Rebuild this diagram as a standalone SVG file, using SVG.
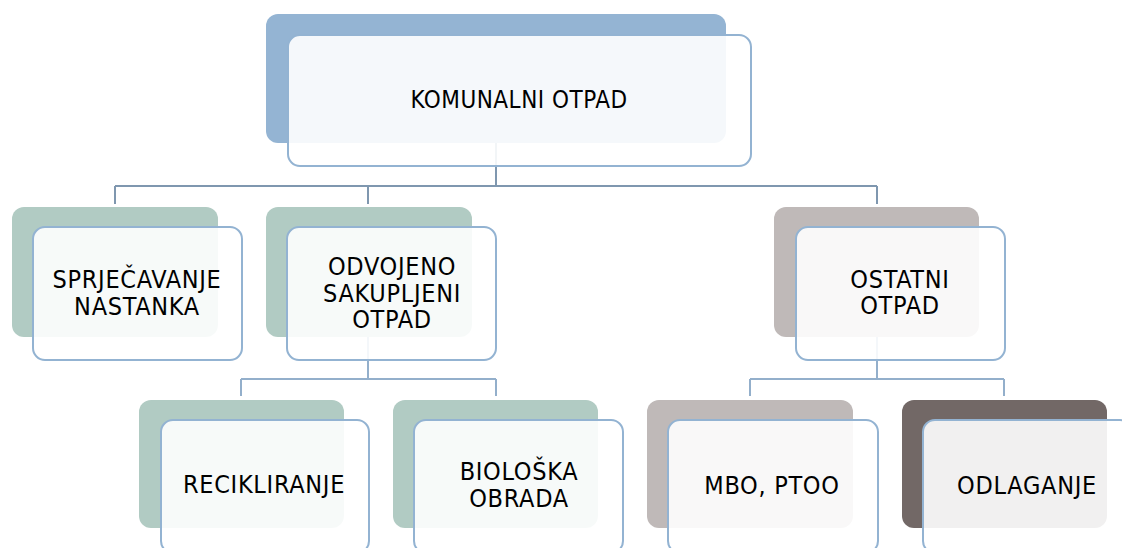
<svg xmlns="http://www.w3.org/2000/svg" width="1122" height="548" viewBox="0 0 1122 548">
<style>
.back{stroke:none}
.front{fill:#ffffff;fill-opacity:0.9;stroke:#93b3d2;stroke-width:2}
.lbl{font-family:'DejaVu Sans Condensed','DejaVu Sans',sans-serif;font-stretch:condensed;font-size:25px;letter-spacing:0.7px;fill:#000;text-anchor:middle}
.top{font-size:24px;letter-spacing:0.5px}
.c1{fill:none;stroke:#7f97af;stroke-width:2}
.c2{fill:none;stroke:#93afcb;stroke-width:2}
</style>
<rect width="1122" height="548" fill="#ffffff"/>
<g id="connectors">
<path class="c1" d="M496 143V186M115 186H877M115 186V204M368 186V204M877 186V204"/>
<path class="c2" d="M368 337V379M241 379H496M241 379V396M496 379V396"/>
<path class="c2" d="M877 337V379M750 379H1004M750 379V396M1004 379V396"/>
</g>
<g id="n-komunalni">
<rect class="back" x="266" y="14" width="460" height="129" rx="12" fill="#94b4d3"/>
<rect class="front" x="288" y="35" width="463" height="131" rx="12"/>
<text class="lbl top" x="519" y="108">KOMUNALNI OTPAD</text>
</g>
<g id="n-sprjecavanje">
<rect class="back" x="12" y="207" width="206" height="130" rx="12" fill="#b1cbc3"/>
<rect class="front" x="33" y="227" width="209" height="133" rx="12"/>
<text class="lbl" x="137" y="288">SPRJEČAVANJE</text>
<text class="lbl" x="137" y="315">NASTANKA</text>
</g>
<g id="n-odvojeno">
<rect class="back" x="266" y="207" width="206" height="130" rx="12" fill="#b1cbc3"/>
<rect class="front" x="287" y="227" width="209" height="133" rx="12"/>
<text class="lbl" x="392" y="275">ODVOJENO</text>
<text class="lbl" x="392" y="302">SAKUPLJENI</text>
<text class="lbl" x="392" y="328">OTPAD</text>
</g>
<g id="n-ostatni">
<rect class="back" x="774" y="207" width="205" height="130" rx="12" fill="#bfb9b8"/>
<rect class="front" x="796" y="227" width="209" height="133" rx="12"/>
<text class="lbl" x="900" y="288">OSTATNI</text>
<text class="lbl" x="900" y="314">OTPAD</text>
</g>
<g id="n-recikliranje">
<rect class="back" x="139" y="400" width="205" height="128" rx="12" fill="#b1cbc3"/>
<rect class="front" x="161" y="420" width="208" height="133" rx="12"/>
<text class="lbl" x="264" y="493">RECIKLIRANJE</text>
</g>
<g id="n-bioloska">
<rect class="back" x="393" y="400" width="205" height="128" rx="12" fill="#b1cbc3"/>
<rect class="front" x="414" y="420" width="209" height="133" rx="12"/>
<text class="lbl" x="519" y="480">BIOLOŠKA</text>
<text class="lbl" x="519" y="507">OBRADA</text>
</g>
<g id="n-mbo">
<rect class="back" x="647" y="400" width="206" height="128" rx="12" fill="#bfb9b8"/>
<rect class="front" x="668" y="420" width="210" height="133" rx="12"/>
<text class="lbl" x="772" y="494">MBO, PTOO</text>
</g>
<g id="n-odlaganje">
<rect class="back" x="902" y="400" width="205" height="128" rx="12" fill="#726866"/>
<rect class="front" x="923" y="420" width="209" height="133" rx="12"/>
<text class="lbl" x="1027" y="494">ODLAGANJE</text>
</g>
</svg>
